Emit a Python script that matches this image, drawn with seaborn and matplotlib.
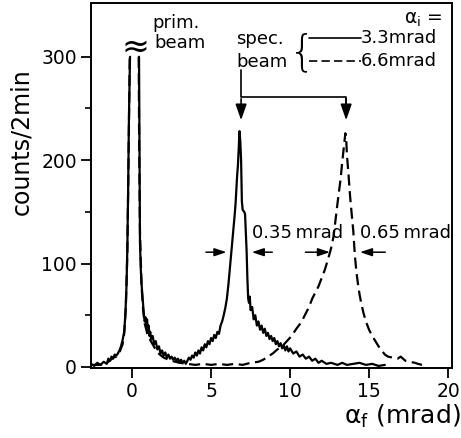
import numpy as np
import pandas as pd
import matplotlib
matplotlib.use("Agg")
import matplotlib.pyplot as plt
import seaborn as sns

# ---- data ----
# solid curve, alpha_i = 3.3 mrad (left and right flanks of the truncated primary beam)
solid_left_x = [-2.6, -2.4, -2.2, -2.0, -1.8, -1.6, -1.5, -1.4, -1.3, -1.2, -1.1, -1.0,
                -0.9, -0.8, -0.7, -0.6, -0.5, -0.45, -0.4, -0.35, -0.3, -0.25, -0.2, -0.13]
solid_left_y = [3, 1, 4, 2, 5, 3, 8, 6, 10, 8, 12, 11,
                13, 16, 20, 26, 34, 45, 60, 80, 115, 170, 240, 300]
solid_right_x = [0.44, 0.47, 0.5, 0.55, 0.6, 0.65, 0.7, 0.75, 0.8, 0.85, 0.9, 0.95, 1.0, 1.05,
                 1.1, 1.15, 1.2, 1.3, 1.4, 1.5, 1.6, 1.7, 1.8, 1.9, 2.0, 2.1, 2.2, 2.3, 2.4,
                 2.5, 2.6, 2.7, 2.8, 2.9, 3.0, 3.1, 3.2, 3.3, 3.4, 3.5, 3.6, 3.7, 3.8, 3.9,
                 4.0, 4.1, 4.2, 4.3, 4.4, 4.5, 4.6, 4.7, 4.8, 4.9, 5.0, 5.1, 5.2, 5.3, 5.4,
                 5.5, 5.6, 5.7, 5.8, 5.9, 6.0, 6.1, 6.2, 6.3, 6.4, 6.5, 6.55, 6.6, 6.65, 6.7,
                 6.75, 6.8, 6.85, 6.9, 6.95, 7.0, 7.1, 7.15, 7.2, 7.25, 7.3, 7.35, 7.4, 7.45,
                 7.5, 7.6, 7.7, 7.8, 7.9, 8.0, 8.1, 8.2, 8.3, 8.4, 8.5, 8.6, 8.7, 8.8, 8.9,
                 9.0, 9.1, 9.2, 9.3, 9.4, 9.5, 9.6, 9.7, 9.8, 9.9, 10.0, 10.2, 10.4, 10.6,
                 10.8, 11.0, 11.2, 11.4, 11.6, 11.8, 12.0, 12.3, 12.6, 13.0, 13.3, 13.6,
                 14.0, 14.4, 14.8, 15.2, 15.6, 16.0]
solid_right_y = [300, 200, 120, 95, 80, 70, 60, 50, 44, 48, 40, 46, 35, 40,
                 30, 34, 27, 30, 22, 25, 17, 20, 13, 16, 11, 14, 9, 12, 8,
                 10, 7, 9, 6, 8, 5, 7, 4, 6, 3, 6, 9, 7, 11, 9,
                 14, 11, 16, 13, 19, 16, 22, 19, 25, 22, 28, 25, 31, 28, 34,
                 32, 40, 44, 50, 57, 66, 80, 97, 115, 132, 148, 158, 172, 185, 195,
                 212, 228, 218, 200, 160, 152, 150, 148, 130, 112, 85, 66, 62, 68,
                 55, 58, 46, 50, 40, 44, 36, 40, 33, 37, 30, 33, 27, 30, 25,
                 28, 22, 25, 20, 23, 18, 21, 16, 20, 15, 18, 13, 15, 10,
                 12, 8, 10, 6, 8, 4, 6, 3, 4, 2, 4, 2,
                 3, 4, 2, 3, 1, 2]

# dashed curve, alpha_i = 6.6 mrad
dashed_left_x = [-2.6, -2.0, -1.5, -1.2, -1.0, -0.8, -0.6, -0.5, -0.4, -0.3, -0.2, -0.15]
dashed_left_y = [2, 2, 5, 9, 10, 14, 22, 32, 55, 110, 230, 300]
dashed_right_x = [0.42, 0.45, 0.5, 0.6, 0.7, 0.8, 1.0, 1.3, 1.6, 2.0, 2.5, 3.0, 3.5, 4.0,
                  4.5, 5.0, 5.5, 6.0, 6.5, 7.0, 7.5, 8.0, 8.3, 8.6, 8.9, 9.2, 9.5, 9.8,
                  10.1, 10.4, 10.7, 11.0, 11.2, 11.4, 11.6, 11.8, 12.0, 12.2, 12.4, 12.6,
                  12.75, 12.9, 13.0, 13.1, 13.2, 13.3, 13.4, 13.5, 13.55, 13.6, 13.7, 13.8,
                  13.9, 14.0, 14.1, 14.2, 14.3, 14.4, 14.5, 14.65, 14.8, 15.0, 15.2, 15.4,
                  15.6, 15.8, 16.0, 16.2, 16.5, 16.8, 17.0, 17.3, 17.6, 17.9, 18.1, 18.35]
dashed_right_y = [300, 210, 130, 78, 55, 42, 30, 22, 14, 9, 6, 4, 3, 2,
                  3, 2, 3, 2, 3, 2, 4, 5, 7, 10, 13, 17, 20, 25,
                  30, 37, 43, 52, 58, 66, 72, 78, 86, 94, 104, 115,
                  126, 145, 158, 170, 182, 198, 212, 226, 222, 205, 186, 165,
                  148, 132, 108, 92, 80, 70, 62, 52, 44, 36, 30, 25,
                  20, 16, 12, 10, 9, 8, 10, 6, 5, 4, 3, 2]

x_ticks = [0, 5, 10, 15, 20]
y_ticks = [0, 100, 200, 300]
y_minor = [50, 150, 250]
legend_labels = ["3.3mrad", "6.6mrad"]

# ---- figure ----
sns.set_theme(style="ticks")
plt.rcParams['font.family'] = ['DejaVu Sans']
plt.rcParams['mathtext.fontset'] = 'dejavusans'
plt.rcParams['text.color'] = 'black'
plt.rcParams['axes.labelcolor'] = 'black'

fig = plt.figure(figsize=(4.61, 4.38), dpi=100)
ax = fig.add_axes([91/461, 1 - 368/438, 361/461, 365/438])

lw = 1.6
dash = (0, (5, 2.5))
for xs, ys in [(solid_left_x, solid_left_y), (solid_right_x, solid_right_y)]:
    sns.lineplot(x=xs, y=ys, ax=ax, color='black', lw=lw, sort=False, estimator=None)
for xs, ys in [(dashed_left_x, dashed_left_y), (dashed_right_x, dashed_right_y)]:
    sns.lineplot(x=xs, y=ys, ax=ax, color='black', lw=lw, linestyle=dash,
                 sort=False, estimator=None)

ax.set_xlim(-2.6, 20.25)
ax.set_ylim(-1, 352)
ax.set_xticks(x_ticks)
ax.set_xticklabels([str(v) for v in x_ticks])
ax.set_yticks(y_ticks)
ax.set_yticklabels([str(v) for v in y_ticks])
ax.set_yticks(y_minor, minor=True)
ax.tick_params(axis='both', which='major', direction='out', length=7, width=1.3,
               labelsize=13.5, colors='black', pad=3)
ax.tick_params(axis='y', which='minor', direction='out', length=4, width=1.2, colors='black')
for s in ax.spines.values():
    s.set_linewidth(1.4)
    s.set_color('black')
    s.set_visible(True)

ax.set_ylabel("counts/2min", fontsize=17, color='black')
ax.yaxis.set_label_coords(-0.16, 0.62)
ax.set_xlabel(r"α$_\mathrm{f}$ (mrad)", fontsize=18, ha='right', color='black')
ax.xaxis.set_label_coords(1.025, -0.095)

# primary beam labels and break mark
ax.text(0.2, 309, "≈", fontsize=24, ha='center', va='center')
ax.text(1.3, 333, "prim.", fontsize=13, ha='left', va='center')
ax.text(1.4, 313, "beam", fontsize=13, ha='left', va='center')

# specular beam legend
ax.text(6.6, 317, "spec.", fontsize=13, ha='left', va='center')
ax.text(6.6, 295, "beam", fontsize=13, ha='left', va='center')
ax.text(10.75, 304, "{", fontsize=30, ha='center', va='center', fontweight='light')
ax.text(17.2, 336, r"α$_\mathrm{i}$ =", fontsize=13.5, ha='left', va='center')
ax.plot([11.2, 14.5], [318, 318], color='black', lw=1.2)
ax.plot([11.2, 14.5], [296, 296], color='black', lw=1.2, linestyle=dash)
ax.text(14.5, 318, legend_labels[0], fontsize=13, ha='left', va='center')
ax.text(14.5, 296, legend_labels[1], fontsize=13, ha='left', va='center')

# arrows to specular peaks
ax.plot([6.9, 6.9, 13.55, 13.55], [287, 261, 261, 250], color='black', lw=1.2)
arrow_kw = dict(arrowstyle='-|>,head_length=0.8,head_width=0.28', color='black', lw=1.2)
ax.annotate("", xy=(6.9, 236), xytext=(6.9, 262), arrowprops=arrow_kw)
ax.annotate("", xy=(13.55, 236), xytext=(13.55, 262), arrowprops=arrow_kw)

# width markers
small_kw = dict(arrowstyle='-|>,head_length=0.6,head_width=0.2', color='black', lw=1.1)
ax.annotate("", xy=(6.15, 111), xytext=(4.5, 111), arrowprops=small_kw)
ax.annotate("", xy=(7.4, 111), xytext=(9.05, 111), arrowprops=small_kw)
ax.annotate("", xy=(12.7, 111), xytext=(10.8, 111), arrowprops=small_kw)
ax.annotate("", xy=(14.25, 111), xytext=(16.2, 111), arrowprops=small_kw)
ax.text(7.6, 130, "0.35\u2009mrad", fontsize=13, ha='left', va='center')
ax.text(14.4, 130, "0.65\u2009mrad", fontsize=13, ha='left', va='center')

fig.savefig("out.png", dpi=100)
